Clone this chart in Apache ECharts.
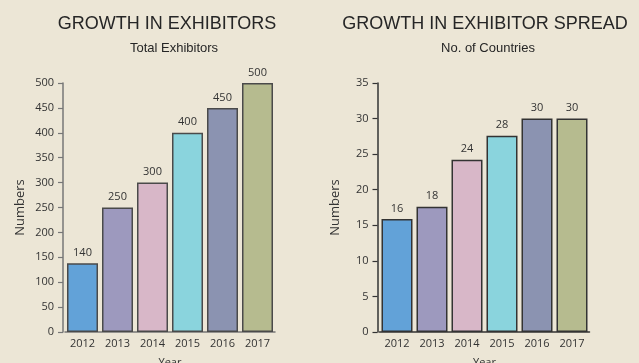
<!DOCTYPE html>
<html>
<head>
<meta charset="utf-8">
<script src="https://cdn.jsdelivr.net/npm/echarts@6/dist/echarts.min.js"></script>
<style>
html,body{margin:0;padding:0;background:#ECE6D6;}
#c{width:639px;height:363px;}
</style>
</head>
<body>
<div id="c"></div>
<script>
const years = ['2012','2013','2014','2015','2016','2017'];
const exhibitorValues = [138, 250, 300, 400, 450, 500];
const exhibitorLabels = ['140','250','300','400','450','500'];
const countryValues = [15.9, 17.6, 24.2, 27.6, 30, 30];
const countryLabels = ['16','18','24','28','30','30'];
const barColors = ['#62A2D8','#9D99BE','#D8B7C8','#8AD4DD','#8B93B1','#B6BB8F'];

const font = '"Open Sans", "DejaVu Sans", sans-serif';
const titleFont = '"Liberation Sans", Arial, sans-serif';

function bars(values, labels, border) {
  return values.map((v, i) => ({
    value: v,
    itemStyle: { color: barColors[i], borderColor: border, borderWidth: 1.5 },
    label: { formatter: labels[i] }
  }));
}

function xAx(idx, lineColor) {
  return {
    type: 'category', gridIndex: idx, data: years,
    name: 'Year', nameLocation: 'middle', nameGap: 25,
    nameTextStyle: { color: '#333', fontSize: 11, fontFamily: font },
    axisLine: { lineStyle: { color: lineColor, width: 1.5 } },
    axisTick: { show: false },
    axisLabel: { color: '#333', fontSize: 11, fontFamily: font, margin: 6 }
  };
}
function yAx(idx, max, interval, lineColor) {
  return {
    type: 'value', gridIndex: idx, min: 0, max: max, interval: interval, offset: 2,
    name: 'Numbers', nameLocation: 'middle', nameGap: 36,
    nameTextStyle: { color: '#333', fontSize: 13, fontFamily: font },
    axisLine: { show: true, lineStyle: { color: lineColor, width: 1.5 } },
    axisTick: { show: true, length: 5, lineStyle: { color: lineColor, width: 1.2 } },
    axisLabel: { color: '#333', fontSize: 11, fontFamily: font, margin: 9 },
    splitLine: { show: false }
  };
}

const chart = echarts.init(document.getElementById('c'));
chart.setOption({
  backgroundColor: '#ECE6D6',
  animation: false,
  title: [
    { text: 'GROWTH IN EXHIBITORS', left: 167, top: 15, textAlign: 'center', padding: 0,
      textStyle: { fontSize: 18, fontWeight: 'normal', color: '#262626', fontFamily: titleFont } },
    { text: 'Total Exhibitors', left: 174, top: 42, textAlign: 'center', padding: 0,
      textStyle: { fontSize: 13, fontWeight: 'normal', color: '#262626', fontFamily: titleFont } },
    { text: 'GROWTH IN EXHIBITOR SPREAD', left: 485, top: 15, textAlign: 'center', padding: 0,
      textStyle: { fontSize: 18, fontWeight: 'normal', color: '#262626', fontFamily: titleFont } },
    { text: 'No. of Countries', left: 488, top: 42, textAlign: 'center', padding: 0,
      textStyle: { fontSize: 13, fontWeight: 'normal', color: '#262626', fontFamily: titleFont } }
  ],
  grid: [
    { left: 65, top: 83, width: 210, height: 249, outerBoundsMode: 'none', containLabel: false },
    { left: 379.5, top: 83, width: 210, height: 249, outerBoundsMode: 'none', containLabel: false }
  ],
  xAxis: [xAx(0, '#777'), xAx(1, '#333')],
  yAxis: [yAx(0, 500, 50, '#777'), yAx(1, 35, 5, '#333')],
  series: [
    { type: 'bar', xAxisIndex: 0, yAxisIndex: 0, barWidth: 31,
      label: { show: true, position: 'top', distance: 5, color: '#333', fontSize: 11, fontFamily: font },
      data: bars(exhibitorValues, exhibitorLabels, '#4a4a4a') },
    { type: 'bar', xAxisIndex: 1, yAxisIndex: 1, barWidth: 31,
      label: { show: true, position: 'top', distance: 5, color: '#333', fontSize: 11, fontFamily: font },
      data: bars(countryValues, countryLabels, '#333') }
  ]
});
</script>
</body>
</html>
